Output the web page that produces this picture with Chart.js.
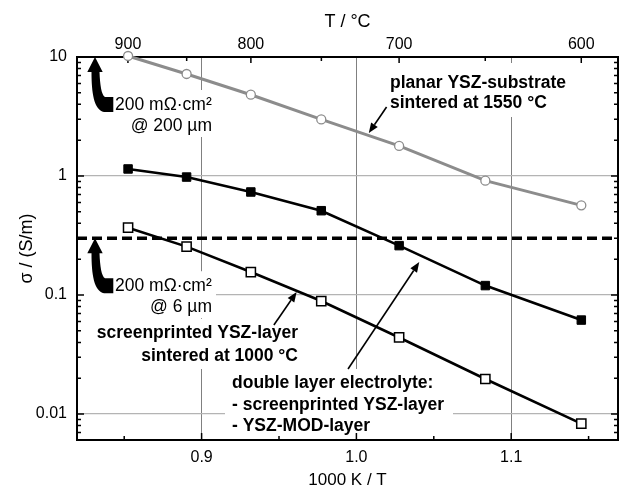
<!DOCTYPE html>
<html><head><meta charset="utf-8">
<script src="https://cdn.jsdelivr.net/npm/chart.js@4.4.1/dist/chart.umd.min.js"></script>
<style>html,body{margin:0;padding:0;background:#fff;}</style>
</head><body>
<canvas id="c" width="626" height="489"></canvas>
<script>
// ---- data ----
const invT = [0.8525, 0.8903, 0.9318, 0.9773, 1.0276, 1.0833, 1.1453]; // 1000 K / T
const planarSubstrate = [10.2, 7.2, 4.82, 2.99, 1.79, 0.914, 0.567];
const doubleLayer = [1.146, 0.98, 0.734, 0.511, 0.26, 0.12, 0.0616];
const screenprinted = [0.368, 0.255, 0.156, 0.089, 0.044, 0.0197, 0.0083];
const threshold = 0.3;
const xTickValues = [0.9, 1.0, 1.1];
const xTickLabels = ['0.9', '1.0', '1.1'];
const xMinorTicks = [0.85, 0.95, 1.05, 1.15];
const tempTickLabels = [900, 800, 700, 600];   // °C
const tempMinorTicks = [850, 750, 650];        // °C
const yTickValues = [0.01, 0.1, 1, 10];
const yTickLabels = ['0.01', '0.1', '1', '10'];

const X_MIN = 0.8195, X_MAX = 1.169, Y_MIN = 0.00605, Y_MAX = 10;
const FONT = "'Liberation Sans', Arial, Helvetica, sans-serif";
const toInv = t => 1000 / (t + 273.15);

const pts = ys => invT.map((x, i) => ({x, y: ys[i]}));

function thinArrow(ctx, x1, y1, x2, y2) {
  const a = Math.atan2(y2 - y1, x2 - x1), L = 10, W = 4;
  const bx = x2 - L * Math.cos(a), by = y2 - L * Math.sin(a);
  ctx.strokeStyle = '#000'; ctx.lineWidth = 1.6;
  ctx.beginPath(); ctx.moveTo(x1, y1); ctx.lineTo(bx, by); ctx.stroke();
  ctx.fillStyle = '#000'; ctx.beginPath();
  ctx.moveTo(x2, y2);
  ctx.lineTo(bx + W * Math.sin(a), by - W * Math.cos(a));
  ctx.lineTo(bx - W * Math.sin(a), by + W * Math.cos(a));
  ctx.closePath(); ctx.fill();
}
function bentArrow(ctx, tx, ty) {
  ctx.save(); ctx.translate(tx, ty); ctx.fillStyle = '#000';
  ctx.beginPath();
  ctx.moveTo(0, 0); ctx.lineTo(7.7, 15); ctx.lineTo(4.5, 15);
  ctx.bezierCurveTo(5, 28, 6.5, 38, 10, 40);
  ctx.lineTo(18.3, 40); ctx.lineTo(18.3, 55); ctx.lineTo(9, 55);
  ctx.bezierCurveTo(-1, 53, -3.5, 36, -3.5, 15);
  ctx.lineTo(-7.7, 15); ctx.closePath(); ctx.fill();
  ctx.restore();
}
function textBlock(ctx, lines, x, ys, align, font, box) {
  ctx.fillStyle = '#fff'; ctx.fillRect(box[0], box[1], box[2], box[3]);
  ctx.fillStyle = '#000'; ctx.font = font; ctx.textAlign = align; ctx.textBaseline = 'middle';
  lines.forEach((t, i) => ctx.fillText(t, x, ys[i]));
}

const annotations = {
  id: 'annotations',
  beforeDatasetsDraw(chart) {
    const ctx = chart.ctx, xs = chart.scales.x, ys = chart.scales.y, ca = chart.chartArea;
    const P = (x, y) => [xs.getPixelForValue(x), ys.getPixelForValue(y)];
    ctx.save();
    const bold = "bold 17.5px " + FONT, reg = "17.5px " + FONT;
    // planar label
    textBlock(ctx, ['planar YSZ-substrate', 'sintered at 1550 °C'], 390, [83, 103], 'left', bold, [383, 63, 192, 54]);
    // resistance labels
    const t1 = ys.getPixelForValue(Y_MAX), t2 = ys.getPixelForValue(threshold);
    [[t1, '@ 200 µm'], [t2, '@ 6 µm']].forEach(([t, s]) => {
      ctx.fillStyle = '#fff'; ctx.fillRect(ca.left + 1, t + 33, 138, 47);
      ctx.fillStyle = '#000'; ctx.font = reg; ctx.textBaseline = 'middle';
      ctx.textAlign = 'left'; ctx.fillText('200 mΩ·cm²', ca.left + 38, t + 48);
      ctx.textAlign = 'right'; ctx.fillText(s, ca.left + 135, t + 69);
      bentArrow(ctx, ca.left + 18, t);
    });
    textBlock(ctx, ['screenprinted YSZ-layer', 'sintered at 1000 °C'], 298, [333, 356], 'right', bold, [88, 319, 216, 50]);
    textBlock(ctx, ['double layer electrolyte:', '- screenprinted YSZ-layer', '- YSZ-MOD-layer'], 232, [383, 405, 426], 'left', bold, [225, 369, 228, 70]);
    // pointer arrows
    let a = P(1.0195, 3.80), b = P(1.008, 2.30); thinArrow(ctx, a[0], a[1], b[0], b[1]);
    a = P(0.9467, 0.056); b = P(0.9614, 0.106); thinArrow(ctx, a[0], a[1], b[0], b[1]);
    a = P(0.9946, 0.0239); b = P(1.0406, 0.189); thinArrow(ctx, a[0], a[1], b[0], b[1]);

    // frame
    ctx.strokeStyle = '#000'; ctx.lineWidth = 2;
    ctx.strokeRect(ca.left, ca.top, ca.right - ca.left, ca.bottom - ca.top);
    // inward ticks
    ctx.lineWidth = 1.5; ctx.beginPath();
    xTickValues.concat(xMinorTicks).forEach(v => {
      const px = xs.getPixelForValue(v), len = xTickValues.includes(v) ? 7 : 4;
      ctx.moveTo(px, ca.bottom); ctx.lineTo(px, ca.bottom - len);
    });
    const xt = chart.scales.xTop;
    tempTickLabels.concat(tempMinorTicks).forEach(t => {
      const px = xt.getPixelForValue(toInv(t)), len = tempTickLabels.includes(t) ? 6 : 4;
      ctx.moveTo(px, ca.top); ctx.lineTo(px, ca.top + len);
    });
    const yMinor = [];
    [0.001, 0.01, 0.1, 1].forEach(d => { for (let k = 2; k <= 9; k++) yMinor.push(d * k); });
    yTickValues.concat(yMinor).forEach(v => {
      if (v < Y_MIN || v > Y_MAX) return;
      const py = ys.getPixelForValue(v), len = yTickValues.includes(v) ? 7 : 4;
      ctx.moveTo(ca.left, py); ctx.lineTo(ca.left + len, py);
      ctx.moveTo(ca.right, py); ctx.lineTo(ca.right - len, py);
    });
    ctx.stroke();
    ctx.restore();
  }
};

new Chart(document.getElementById('c'), {
  type: 'scatter',
  data: {
    datasets: [
      { label: 'planar YSZ-substrate', data: pts(planarSubstrate), showLine: true,
        borderColor: '#8c8c8c', borderWidth: 3, pointStyle: 'circle', pointRadius: 4.5,
        pointBackgroundColor: '#fff', pointBorderColor: '#8c8c8c', pointBorderWidth: 1.3, clip: false },
      { label: 'double layer', data: pts(doubleLayer), showLine: true,
        borderColor: '#000', borderWidth: 2.6, pointStyle: 'rect', pointRadius: 6,
        pointBackgroundColor: '#000', pointBorderColor: '#000', pointBorderWidth: 1, clip: false },
      { label: 'screenprinted', data: pts(screenprinted), showLine: true,
        borderColor: '#000', borderWidth: 2.6, pointStyle: 'rect', pointRadius: 6.5,
        pointBackgroundColor: '#fff', pointBorderColor: '#000', pointBorderWidth: 1.5, clip: false },
      { label: 'threshold', data: [{x: X_MIN, y: threshold}, {x: X_MAX, y: threshold}], showLine: true,
        borderColor: '#000', borderWidth: 3.5, borderDash: [10, 5], pointRadius: 0 }
    ]
  },
  options: {
    responsive: false, animation: false,
    layout: { padding: { left: 0, right: 2, top: 0, bottom: 0 } },
    plugins: { legend: { display: false }, tooltip: { enabled: false } },
    scales: {
      x: {
        type: 'linear', position: 'bottom', min: X_MIN, max: X_MAX,
        afterBuildTicks: s => { s.ticks = xTickValues.map(v => ({value: v})); },
        afterFit: s => { s.height = 49; },
        ticks: { callback: (v, i) => xTickLabels[i], font: {family: FONT, size: 16}, color: '#000',
                 padding: 8, maxRotation: 0, autoSkip: false },
        grid: { color: '#808080', lineWidth: 1, drawTicks: false },
        border: { display: false },
        title: { display: true, text: '1000 K / T', color: '#000',
                 font: {family: FONT, size: 17, lineHeight: 1}, padding: {top: 0, bottom: 0.5} }
      },
      xTop: {
        type: 'linear', position: 'top', min: X_MIN, max: X_MAX,
        afterBuildTicks: s => { s.ticks = tempTickLabels.map(t => ({value: toInv(t)})); },
        afterFit: s => { s.height = 57; },
        ticks: { callback: (v, i) => String(tempTickLabels[i]), font: {family: FONT, size: 16}, color: '#000',
                 padding: 3, maxRotation: 0, autoSkip: false },
        grid: { display: false, drawTicks: false },
        border: { display: false },
        title: { display: true, text: 'T / °C', color: '#000',
                 font: {family: FONT, size: 18, lineHeight: 1}, padding: {top: 13, bottom: 0} }
      },
      y: {
        type: 'logarithmic', position: 'left', min: Y_MIN, max: Y_MAX,
        afterBuildTicks: s => { s.ticks = yTickValues.map(v => ({value: v})); },
        afterFit: s => { s.width = 77; },
        ticks: { callback: (v, i) => yTickLabels[i], font: {family: FONT, size: 16}, color: '#000',
                 padding: 10, autoSkip: false },
        grid: { color: '#b4b4b4', lineWidth: 1.2, drawTicks: false },
        border: { display: false },
        title: { display: true, text: 'σ / (S/m)', color: '#000',
                 font: {family: FONT, size: 18, lineHeight: 1}, padding: {top: 18, bottom: 0} }
      }
    }
  },
  plugins: [annotations]
});
</script>
</body></html>
